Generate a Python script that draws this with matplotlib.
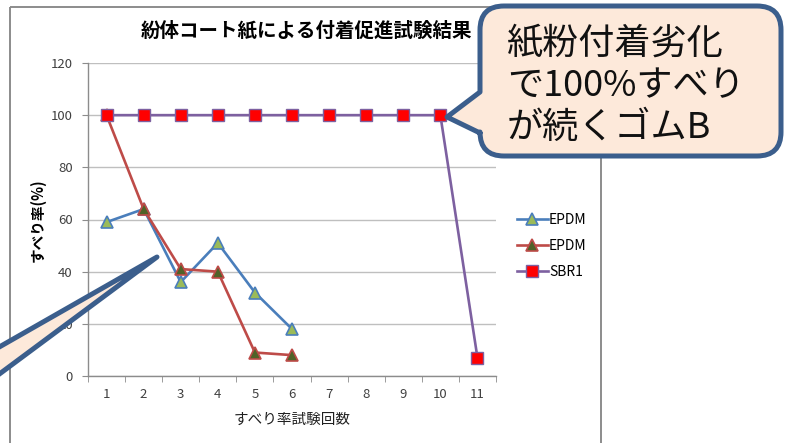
import matplotlib
matplotlib.use("Agg")
import matplotlib.pyplot as plt
from matplotlib.path import Path
from matplotlib.patches import PathPatch, Rectangle
from matplotlib.transforms import Affine2D
import numpy as np

plt.rcParams['font.family'] = ['Noto Sans CJK JP', 'DejaVu Sans']

# ---- data ----
trials = [1, 2, 3, 4, 5, 6, 7, 8, 9, 10, 11]
epdm_a = [59, 64, 36, 51, 32, 18]
epdm_b = [100, 64, 41, 40, 9, 8]
sbr1 = [100, 100, 100, 100, 100, 100, 100, 100, 100, 100, 7]
series_labels = ["EPDM", "EPDM", "SBR1"]
title = "紛体コート紙による付着促進試験結果"
xlabel = "すべり率試験回数"
ylabel = "すべり率(%)"
yticks = [0, 20, 40, 60, 80, 100, 120]
callout_text = "紙粉付着劣化\nで100%すべり\nが続くゴムB"

W, H = 785, 443
fig = plt.figure(figsize=(W / 100, H / 100), dpi=100)
fig.patch.set_facecolor("white")

# pixel transform (y down)
px = Affine2D().scale(1 / W, -1 / H).translate(0, 1) + fig.transFigure

# chart frame
frame = Rectangle((10, 7), 591, 460, transform=px, fill=False,
                  edgecolor="#8c8c8c", linewidth=1.4, zorder=0)
fig.add_artist(frame)

ax = fig.add_axes([88 / W, 1 - 376 / H, 408 / W, 313 / H])
ax.set_facecolor("none")

ax.plot(trials[:len(epdm_a)], epdm_a, color="#4A7EBB", lw=1.9, marker="^",
        ms=9, mfc="#9BBB59", mec="#4A7EBB", mew=1.2, label=series_labels[0], zorder=3)
ax.plot(trials[:len(epdm_b)], epdm_b, color="#BE4B48", lw=1.9, marker="^",
        ms=9, mfc="#4F6228", mec="#BE4B48", mew=1.2, label=series_labels[1], zorder=3)
ax.plot(trials, sbr1, color="#7D60A0", lw=1.9, marker="s",
        ms=8, mfc="#FF0000", mec="#7D60A0", mew=1.0, label=series_labels[2], zorder=4)

ax.set_xlim(0.5, len(trials) + 0.5)
ax.set_ylim(0, 120)
ax.set_yticks(yticks)
ax.set_xticks(trials)
ax.set_xticks(np.arange(0.5, len(trials) + 1, 1), minor=True)
ax.grid(axis="y", color="#BFBFBF", lw=1.0)
ax.set_axisbelow(True)
for s in ["top", "right"]:
    ax.spines[s].set_visible(False)
for s in ["left", "bottom"]:
    ax.spines[s].set_color("#8c8c8c")
    ax.spines[s].set_linewidth(1.0)
ax.tick_params(axis="y", length=4, color="#8c8c8c", pad=7, labelsize=9.5, labelcolor="#404040")
ax.tick_params(axis="x", which="major", length=0, pad=9, labelsize=9.5, labelcolor="#404040")
ax.tick_params(axis="x", which="minor", length=4, color="#8c8c8c")

ax.set_xlabel(xlabel, fontsize=10.5, color="#202020", labelpad=8)
fig.text(38 / W, 1 - 220 / H, ylabel, rotation=90, ha="center", va="center",
         fontsize=10.5, fontweight="bold")
fig.text(306 / W, 1 - 31 / H, title, ha="center", va="center",
         fontsize=14, fontweight="bold")

leg = ax.legend(loc="center left", bbox_to_anchor=(517 / W, 1 - 246 / H),
                bbox_transform=fig.transFigure, frameon=False, fontsize=10,
                handlelength=2.2, handletextpad=0.1, labelspacing=0.85,
                borderpad=0, borderaxespad=0)

# ---- callouts ----
def bubble(x0, y0, x1, y1, r, side_pts):
    # pointer on left edge
    ya, tx, ty, yb = side_pts
    verts = [(x0 + r, y0), (x1 - r, y0), (x1, y0), (x1, y0 + r),
             (x1, y1 - r), (x1, y1), (x1 - r, y1),
             (x0 + r, y1), (x0, y1), (x0, y1 - r),
             (x0, yb), (tx, ty), (x0, ya),
             (x0, y0 + r), (x0, y0), (x0 + r, y0), (x0 + r, y0)]
    codes = [Path.MOVETO, Path.LINETO, Path.CURVE3, Path.CURVE3,
             Path.LINETO, Path.CURVE3, Path.CURVE3,
             Path.LINETO, Path.CURVE3, Path.CURVE3,
             Path.LINETO, Path.LINETO, Path.LINETO,
             Path.LINETO, Path.CURVE3, Path.CURVE3, Path.CLOSEPOLY]
    return Path(verts, codes)

def bubble_right(x0, y0, x1, y1, r, side_pts):
    # pointer on right edge
    ya, tx, ty, yb = side_pts
    verts = [(x0 + r, y0), (x1 - r, y0), (x1, y0), (x1, y0 + r),
             (x1, ya), (tx, ty), (x1, yb),
             (x1, y1 - r), (x1, y1), (x1 - r, y1),
             (x0 + r, y1), (x0, y1), (x0, y1 - r),
             (x0, y0 + r), (x0, y0), (x0 + r, y0), (x0 + r, y0)]
    codes = [Path.MOVETO, Path.LINETO, Path.CURVE3, Path.CURVE3,
             Path.LINETO, Path.LINETO, Path.LINETO,
             Path.LINETO, Path.CURVE3, Path.CURVE3,
             Path.LINETO, Path.CURVE3, Path.CURVE3,
             Path.LINETO, Path.CURVE3, Path.CURVE3, Path.CLOSEPOLY]
    return Path(verts, codes)

fill_c = "#FDE9DA"
edge_c = "#3B5E8C"

p1 = bubble(480, 6, 781, 156, 24, (92, 447, 117, 133))
fig.add_artist(PathPatch(p1, transform=px, facecolor=fill_c, edgecolor=edge_c,
                         lw=3.6, joinstyle="round", zorder=10))
fig.text(507 / W, 1 - 86 / H, callout_text, ha="left", va="center",
         fontsize=26, linespacing=1.22, color="#111111", zorder=11)

p2 = bubble_right(-400, 250, -6, 460, 24, (350, 157, 257, 378))
fig.add_artist(PathPatch(p2, transform=px, facecolor=fill_c, edgecolor=edge_c,
                         lw=3.6, joinstyle="round", zorder=10))

fig.savefig("out.png", dpi=100)
